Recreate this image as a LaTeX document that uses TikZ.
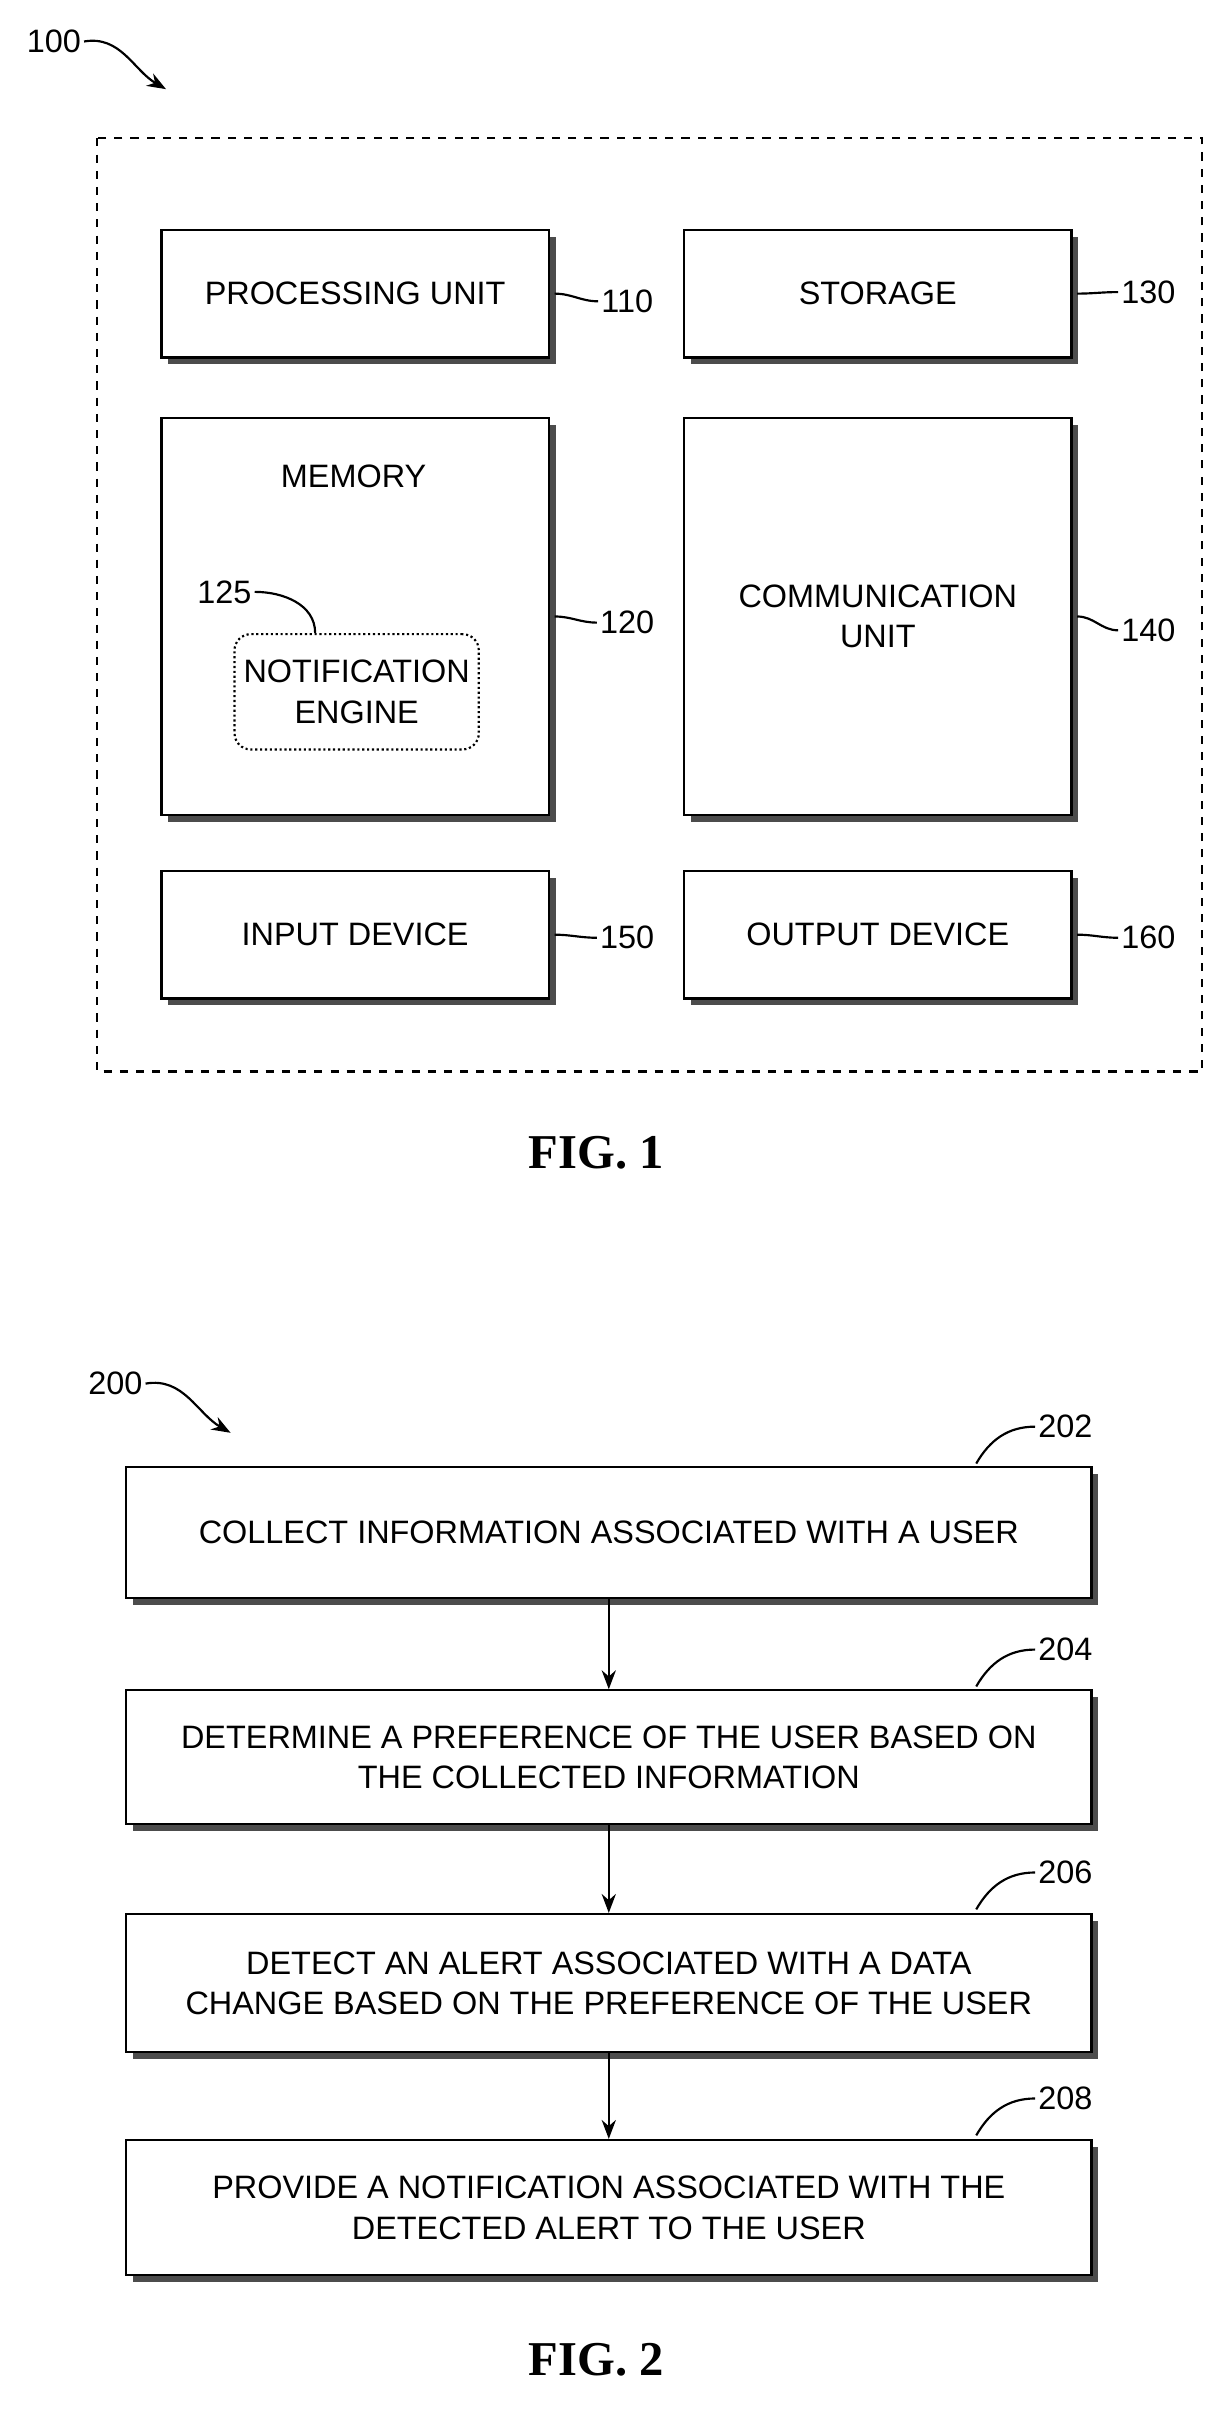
\documentclass[tikz,border=0pt]{standalone}
\usepackage{fontspec}
\setmainfont{Liberation Sans}
\usetikzlibrary{shadows,arrows.meta}
\tikzset{
  blk/.style={draw, thick, fill=white, rectangle, align=center,
    drop shadow={shadow xshift=2.5pt, shadow yshift=-2.5pt, fill=black!70, opacity=1}},
  lead/.style={thick},
  num/.style={font=\fontsize{12}{14}\selectfont, inner sep=1pt},
  cap/.style={font=\fontsize{17}{20}\selectfont\bfseries\rmfamily},
}
\setmainfont{Liberation Sans}
\newfontfamily\capfont{Liberation Serif}
\begin{document}
\begin{tikzpicture}[x=0.02cm, y=-0.02cm, font=\fontsize{12}{15}\selectfont]
  \useasboundingbox (0,0) rectangle (800,1567);
  % figure 1
  \draw [dashed, thick] (63,90) rectangle (782,697);
  \node [blk, minimum width=252*0.02cm, minimum height=83*0.02cm] (proc) at (231,191) {PROCESSING UNIT};
  \node [blk, minimum width=252*0.02cm, minimum height=83*0.02cm] (stor) at (571,191) {STORAGE};
  \node [blk, minimum width=252*0.02cm, minimum height=258*0.02cm] (mem) at (231,401) {};
  \node (memt) at (230,310) {MEMORY};
  \node [blk, minimum width=252*0.02cm, minimum height=258*0.02cm] (comm) at (571,401) {COMMUNICATION\\UNIT};
  \node [blk, minimum width=252*0.02cm, minimum height=83*0.02cm] (inp) at (231,608) {INPUT DEVICE};
  \node [blk, minimum width=252*0.02cm, minimum height=83*0.02cm] (outp) at (571,608) {OUTPUT DEVICE};
  \node [draw, densely dotted, thick, rounded corners=6pt, align=center,
    minimum width=150*0.02cm, minimum height=75*0.02cm] (eng) at (232,450) {NOTIFICATION\\ENGINE};
  \node [num] (n110) at (408,196) {110};
  \node [num] (n130) at (747,190) {130};
  \node [num] (n120) at (408,405) {120};
  \node [num] (n140) at (747,410) {140};
  \node [num] (n150) at (408,610) {150};
  \node [num] (n160) at (747,610) {160};
  \node [num] (n125) at (146,385) {125};
  \draw [lead] (proc.east) ++(3,0) to[out=0,in=180] (n110.west);
  \draw [lead] (stor.east) ++(3,0) to[out=0,in=180] (n130.west);
  \draw [lead] (mem.east) ++(3,0) to[out=0,in=180] (n120.west);
  \draw [lead] (comm.east) ++(3,0) to[out=0,in=180] (n140.west);
  \draw [lead] (inp.east) ++(3,0) to[out=0,in=180] (n150.west);
  \draw [lead] (outp.east) ++(3,0) to[out=0,in=180] (n160.west);
  \draw [lead] (n125.east) to[out=0,in=90] (eng.north -| 205,0);
  \node [num] (n100) at (35,27) {100};
  \draw [thick, -{Stealth[length=7pt]}] (n100.east) to[out=10,in=150] (108,58);
  \node [font=\fontsize{18}{20}\selectfont\bfseries\capfont] (fig1) at (388,750) {FIG. 1};
  % figure 2
  \node [blk, minimum width=628*0.02cm, minimum height=85*0.02cm] (s202) at (396,997) {COLLECT INFORMATION ASSOCIATED WITH A USER};
  \node [blk, minimum width=628*0.02cm, minimum height=87*0.02cm] (s204) at (396,1143) {DETERMINE A PREFERENCE OF THE USER BASED ON\\THE COLLECTED INFORMATION};
  \node [blk, minimum width=628*0.02cm, minimum height=90*0.02cm] (s206) at (396,1290) {DETECT AN ALERT ASSOCIATED WITH A DATA\\CHANGE BASED ON THE PREFERENCE OF THE USER};
  \node [blk, minimum width=628*0.02cm, minimum height=88*0.02cm] (s208) at (396,1436) {PROVIDE A NOTIFICATION ASSOCIATED WITH THE\\DETECTED ALERT TO THE USER};
  \draw [thick, -{Stealth[length=7pt]}] (s202.south) -- (s204.north);
  \draw [thick, -{Stealth[length=7pt]}] (s204.south) -- (s206.north);
  \draw [thick, -{Stealth[length=7pt]}] (s206.south) -- (s208.north);
  \node [num] (n202) at (693,928) {202};
  \node [num] (n204) at (693,1073) {204};
  \node [num] (n206) at (693,1218) {206};
  \node [num] (n208) at (693,1365) {208};
  \draw [lead] (635,952) to[out=60,in=180] (n202.west);
  \draw [lead] (635,1097) to[out=60,in=180] (n204.west);
  \draw [lead] (635,1242) to[out=60,in=180] (n206.west);
  \draw [lead] (635,1389) to[out=60,in=180] (n208.west);
  \node [num] (n200) at (75,900) {200};
  \draw [thick, -{Stealth[length=7pt]}] (n200.east) to[out=10,in=150] (150,932);
  \node [font=\fontsize{18}{20}\selectfont\bfseries\capfont] (fig2) at (388,1535) {FIG. 2};
\end{tikzpicture}
\end{document}
